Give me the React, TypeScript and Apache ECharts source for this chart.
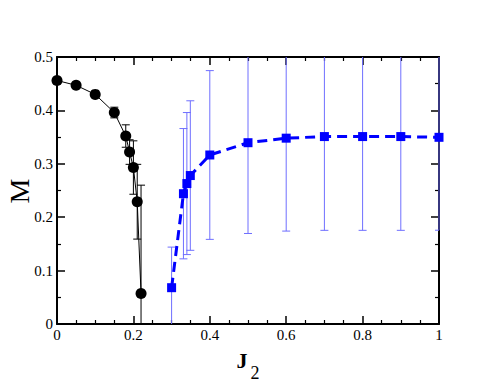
import React, { useEffect, useRef } from "react";
import * as echarts from "echarts";

const blackX = [0, 0.05, 0.1, 0.15, 0.18, 0.19, 0.2, 0.21, 0.22];
const blackM = [0.456, 0.447, 0.43, 0.396, 0.352, 0.322, 0.293, 0.229, 0.057];
const blackErr = [0, 0, 0, 0.01, 0.021, 0.023, 0.05, 0.07, 0.203];

const blueX = [0.3, 0.331, 0.34, 0.349, 0.4, 0.5, 0.6, 0.7, 0.8, 0.9, 1.0];
const blueM = [0.068, 0.244, 0.263, 0.278, 0.3165, 0.3395, 0.348, 0.351, 0.351, 0.351, 0.3496];
const blueErr = [0.076, 0.122, 0.133, 0.14, 0.158, 0.17, 0.174, 0.1756, 0.1756, 0.1756, 0.174];

const Y_MIN = 0;
const Y_MAX = 0.5;
const SERIF = "'Liberation Serif', 'Times New Roman', serif";

function errData(xs: number[], ys: number[], es: number[]) {
  const out: number[][] = [];
  xs.forEach((x, i) => {
    if (es[i] > 0) out.push([x, ys[i] - es[i], ys[i] + es[i]]);
  });
  return out;
}

function makeErrRender(color: string, capHalf: number) {
  return (params: any, api: any) => {
    const x = api.value(0);
    const lo = api.value(1);
    const hi = api.value(2);
    const cs = params.coordSys;
    const loC = Math.max(lo, Y_MIN);
    const hiC = Math.min(hi, Y_MAX);
    const p1 = api.coord([x, loC]);
    const p2 = api.coord([x, hiC]);
    const left = cs.x;
    const right = cs.x + cs.width;
    const style = { stroke: color, lineWidth: 1 };
    const children: any[] = [
      { type: "line", shape: { x1: p1[0], y1: p1[1], x2: p2[0], y2: p2[1] }, style },
    ];
    const cap = (p: number[]) => ({
      type: "line",
      shape: {
        x1: Math.max(p[0] - capHalf, left),
        y1: p[1],
        x2: Math.min(p[0] + capHalf, right),
        y2: p[1],
      },
      style,
    });
    if (lo >= Y_MIN) children.push(cap(p1));
    if (hi <= Y_MAX) children.push(cap(p2));
    return { type: "group", children };
  };
}

export default function App() {
  const ref = useRef<HTMLDivElement>(null);
  useEffect(() => {
    if (!ref.current) return;
    const chart = echarts.init(ref.current, null, { renderer: "svg" });
    const labelFont = {
      fontFamily: SERIF,
      fontSize: 15,
      color: "#000",
    };
    const axisLine = { show: true, onZero: false, lineStyle: { color: "#000", width: 2 } };
    const tick = { show: true, inside: true, length: 8, lineStyle: { color: "#000", width: 1.5 } };
    const minor = { show: true, length: 4, lineStyle: { color: "#000", width: 1.2 } };
    chart.setOption({
      animation: false,
      backgroundColor: "#fff",
      grid: { left: 57, right: 55, top: 57, bottom: 58 },
      xAxis: [
        {
          type: "value",
          min: 0,
          max: 1,
          interval: 0.2,
          position: "bottom",
          axisLine,
          axisTick: tick,
          minorTick: { ...minor, splitNumber: 4 },
          splitLine: { show: false },
          axisLabel: { ...labelFont, margin: 3 },
        },
        {
          type: "value",
          min: 0,
          max: 1,
          interval: 0.2,
          position: "top",
          axisLine,
          axisTick: tick,
          minorTick: { ...minor, splitNumber: 4 },
          splitLine: { show: false },
          axisLabel: { show: false },
        },
      ],
      yAxis: [
        {
          type: "value",
          min: Y_MIN,
          max: Y_MAX,
          interval: 0.1,
          position: "left",
          axisLine,
          axisTick: tick,
          minorTick: { ...minor, splitNumber: 2 },
          splitLine: { show: false },
          axisLabel: { ...labelFont, margin: 4 },
        },
        {
          type: "value",
          min: Y_MIN,
          max: Y_MAX,
          interval: 0.1,
          position: "right",
          axisLine,
          axisTick: tick,
          minorTick: { ...minor, splitNumber: 2 },
          splitLine: { show: false },
          axisLabel: { show: false },
        },
      ],
      graphic: [
        {
          type: "text",
          x: 19,
          y: 191,
          rotation: Math.PI / 2,
          style: {
            text: "M",
            font: "28px " + SERIF,
            fill: "#000",
            align: "center",
            verticalAlign: "middle",
          },
        },
        {
          type: "text",
          x: 242,
          y: 360,
          style: {
            text: "J",
            font: "bold 22px " + SERIF,
            fill: "#000",
            align: "center",
            verticalAlign: "middle",
          },
        },
        {
          type: "text",
          x: 255,
          y: 373,
          style: {
            text: "2",
            font: "18px " + SERIF,
            fill: "#000",
            align: "center",
            verticalAlign: "middle",
          },
        },
      ],
      series: [
        {
          type: "custom",
          name: "blackErr",
          renderItem: makeErrRender("#000", 4),
          data: errData(blackX, blackM, blackErr),
          z: 1,
        },
        {
          type: "custom",
          name: "blueErr",
          renderItem: makeErrRender("#6f6fff", 4),
          data: errData(blueX, blueM, blueErr),
          z: 1,
        },
        {
          type: "line",
          name: "black",
          data: blackX.map((x, i) => [x, blackM[i]]),
          symbol: "circle",
          symbolSize: 11,
          itemStyle: { color: "#000" },
          lineStyle: { color: "#000", width: 1 },
          z: 3,
          clip: false,
        },
        {
          type: "line",
          name: "blue",
          data: blueX.map((x, i) => [x, blueM[i]]),
          symbol: "rect",
          symbolSize: 9,
          itemStyle: { color: "#0000ff" },
          lineStyle: { color: "#0000ff", width: 3, type: [10, 6] },
          z: 3,
          clip: false,
        },
      ],
    });
    return () => chart.dispose();
  }, []);
  return <div ref={ref} style={{ width: 494, height: 382, position: "absolute", left: 0, top: 0 }} />;
}
